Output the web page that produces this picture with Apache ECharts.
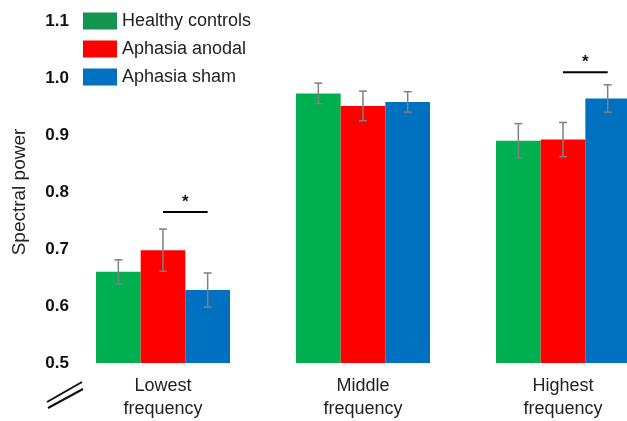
<!DOCTYPE html>
<html>
<head>
<meta charset="utf-8">
<script src="https://cdn.jsdelivr.net/npm/echarts@6/dist/echarts.min.js"></script>
<style>
  html, body { margin: 0; padding: 0; background: #fff; }
  #chart { width: 627px; height: 421px; }
</style>
</head>
<body>
<div id="chart"></div>
<script>
// Frequency bands on the x axis
const categories = ['Lowest\nfrequency', 'Middle\nfrequency', 'Highest\nfrequency'];

// Mean spectral power per group, with standard error
const healthy = [0.660, 0.973, 0.890];
const healthyErr = [0.021, 0.018, 0.030];
const anodal = [0.698, 0.951, 0.892];
const anodalErr = [0.037, 0.026, 0.030];
const sham = [0.628, 0.958, 0.964];
const shamErr = [0.030, 0.018, 0.024];

// Significant comparisons: [category index, from bar, to bar, bracket height]
const significance = [
  [0, 1, 2, 0.765],
  [2, 1, 2, 1.010]
];

// Y axis tick values
const yMin = 0.5, yMax = 1.1, yStep = 0.1;

const seriesNames = ['Healthy controls', 'Aphasia anodal', 'Aphasia sham'];
const colors = ['#00B050', '#FF0000', '#0070C0'];
const legendColors = ['#13954F', '#FF0000', '#0070C0'];
const values = [healthy, anodal, sham];
const errors = [healthyErr, anodalErr, shamErr];

const CAT_GAP = 0.33;          // barCategoryGap as a fraction
const N_BARS = 3;

// Pixel offset of bar `k` inside its category band
function barOffset(api, k) {
  const band = api.size([1, 0])[0];
  const w = band * (1 - CAT_GAP) / N_BARS;
  return { offset: (k - (N_BARS - 1) / 2) * w, width: w };
}

const errData = [];
values.forEach((vals, k) => {
  vals.forEach((v, i) => errData.push([i, v, errors[k][i], k]));
});

const barSeries = values.map((vals, k) => ({
  name: seriesNames[k],
  type: 'bar',
  data: vals,
  barGap: '0%',
  barCategoryGap: (CAT_GAP * 100) + '%',
  itemStyle: { color: colors[k] },
  z: 2
}));

const option = {
  animation: false,
  grid: { left: 63, top: 21, width: 600, height: 342, outerBoundsMode: 'none', containLabel: false },
  legend: {
    data: seriesNames.map((n, k) => ({ name: n, itemStyle: { color: legendColors[k] } })),
    orient: 'vertical',
    left: 83,
    top: 12,
    padding: 0,
    icon: 'rect',
    itemWidth: 34,
    itemHeight: 17,
    itemGap: 10,
    textStyle: { fontFamily: 'Liberation Sans, Arial, sans-serif', fontSize: 18, color: '#222' }
  },
  xAxis: {
    type: 'category',
    data: categories,
    axisLine: { show: false },
    axisTick: { show: false },
    axisLabel: {
      fontFamily: 'Liberation Sans, Arial, sans-serif',
      fontSize: 18,
      lineHeight: 23,
      color: '#222',
      margin: 12
    }
  },
  yAxis: {
    type: 'value',
    min: yMin,
    max: yMax,
    interval: yStep,
    name: 'Spectral power',
    nameLocation: 'middle',
    nameGap: 34,
    nameTextStyle: { fontFamily: 'Liberation Sans, Arial, sans-serif', fontSize: 19, color: '#222' },
    axisLine: { show: false },
    axisTick: { show: false },
    splitLine: { show: false },
    axisLabel: {
      fontFamily: 'Liberation Sans, Arial, sans-serif',
      fontSize: 17,
      fontWeight: 'bold',
      color: '#111',
      margin: -6,
      formatter: v => v.toFixed(1)
    }
  },
  series: barSeries.concat([
    {
      name: 'error',
      type: 'custom',
      data: errData,
      encode: { x: 0, y: 1 },
      z: 5,
      renderItem: function (params, api) {
        const cat = api.value(0), v = api.value(1), e = api.value(2), k = api.value(3);
        const o = barOffset(api, k);
        const cx = api.coord([cat, v])[0] + o.offset;
        const yTop = api.coord([cat, v + e])[1];
        const yBot = api.coord([cat, v - e])[1];
        const cap = 4;
        const style = { stroke: '#808080', lineWidth: 1.5 };
        return {
          type: 'group',
          children: [
            { type: 'line', shape: { x1: cx, y1: yTop, x2: cx, y2: yBot }, style },
            { type: 'line', shape: { x1: cx - cap, y1: yTop, x2: cx + cap, y2: yTop }, style },
            { type: 'line', shape: { x1: cx - cap, y1: yBot, x2: cx + cap, y2: yBot }, style }
          ]
        };
      }
    },
    {
      name: 'significance',
      type: 'custom',
      data: significance,
      encode: { x: 0, y: 3 },
      z: 6,
      renderItem: function (params, api) {
        const cat = api.value(0), a = api.value(1), b = api.value(2), h = api.value(3);
        const p = api.coord([cat, h]);
        const xa = p[0] + barOffset(api, a).offset;
        const xb = p[0] + barOffset(api, b).offset;
        return {
          type: 'group',
          children: [
            { type: 'line', shape: { x1: xa, y1: p[1], x2: xb, y2: p[1] },
              style: { stroke: '#000', lineWidth: 2 } },
            { type: 'text', x: (xa + xb) / 2, y: p[1] - 1,
              style: { text: '*', fontSize: 17, fontWeight: 'bold', fill: '#111',
                       fontFamily: 'Liberation Sans, Arial, sans-serif',
                       align: 'center', verticalAlign: 'bottom' } }
          ]
        };
      }
    }
  ]),
  graphic: [
    // axis break mark below the y axis
    { type: 'line', shape: { x1: 47, y1: 402, x2: 82, y2: 382 }, style: { stroke: '#111', lineWidth: 2 } },
    { type: 'line', shape: { x1: 48, y1: 408, x2: 83, y2: 389 }, style: { stroke: '#111', lineWidth: 2 } }
  ]
};

const chart = echarts.init(document.getElementById('chart'));
chart.setOption(option);
</script>
</body>
</html>
